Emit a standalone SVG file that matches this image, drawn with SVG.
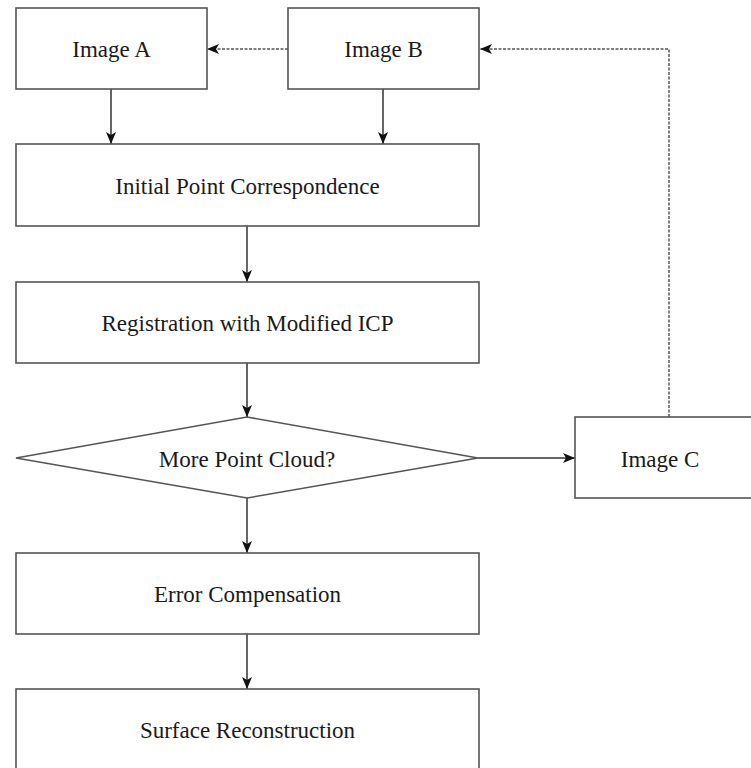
<svg xmlns="http://www.w3.org/2000/svg" width="751" height="768" viewBox="0 0 751 768">
<style>
.box{fill:#fff;stroke:#555;stroke-width:1.6}
.t{font-family:"Liberation Serif","Times New Roman",serif;font-size:23px;fill:#1a1a1a;text-anchor:middle}
.c{fill:none;stroke:#333;stroke-width:1.5}
.d{fill:none;stroke:#555;stroke-width:1.5;stroke-dasharray:3 1.5}
</style>
<defs>
<marker id="ah" viewBox="0 0 12 10" refX="12" refY="5" markerWidth="12" markerHeight="10" markerUnits="userSpaceOnUse" orient="auto">
<path d="M0,0 L12,5 L0,10 L3,5 Z" fill="#111"/>
</marker>
</defs>
<rect width="751" height="768" fill="#fff"/>
<g id="connectors">
<path class="c" d="M111,89 V144" marker-end="url(#ah)"/>
<path class="c" d="M383,89 V144" marker-end="url(#ah)"/>
<path class="d" d="M288,49 H207" marker-end="url(#ah)"/>
<path class="c" d="M247,226 V282" marker-end="url(#ah)"/>
<path class="c" d="M247,363 V417" marker-end="url(#ah)"/>
<path class="c" d="M478,458 H575" marker-end="url(#ah)"/>
<path class="d" d="M669,417 V49 H480" marker-end="url(#ah)"/>
<path class="c" d="M247,498 V553" marker-end="url(#ah)"/>
<path class="c" d="M247,634 V689" marker-end="url(#ah)"/>
</g>
<g id="imageA"><rect class="box" x="16" y="8" width="191" height="81"/><text class="t" x="111.5" y="57">Image A</text></g>
<g id="imageB"><rect class="box" x="288" y="8" width="191" height="81"/><text class="t" x="383.5" y="57">Image B</text></g>
<g id="initial"><rect class="box" x="16" y="144" width="463" height="82"/><text class="t" x="247.5" y="194">Initial Point Correspondence</text></g>
<g id="registration"><rect class="box" x="16" y="282" width="463" height="81"/><text class="t" x="247.5" y="331">Registration with Modified ICP</text></g>
<g id="decision"><polygon class="box" points="16,458 247,417 478,458 247,498"/><text class="t" x="247" y="467">More Point Cloud?</text></g>
<g id="imageC"><rect class="box" x="575" y="417" width="190" height="81"/><text class="t" x="660" y="467">Image C</text></g>
<g id="error"><rect class="box" x="16" y="553" width="463" height="81"/><text class="t" x="247.5" y="602">Error Compensation</text></g>
<g id="surface"><rect class="box" x="16" y="689" width="463" height="90"/><text class="t" x="247.5" y="738">Surface Reconstruction</text></g>
</svg>
